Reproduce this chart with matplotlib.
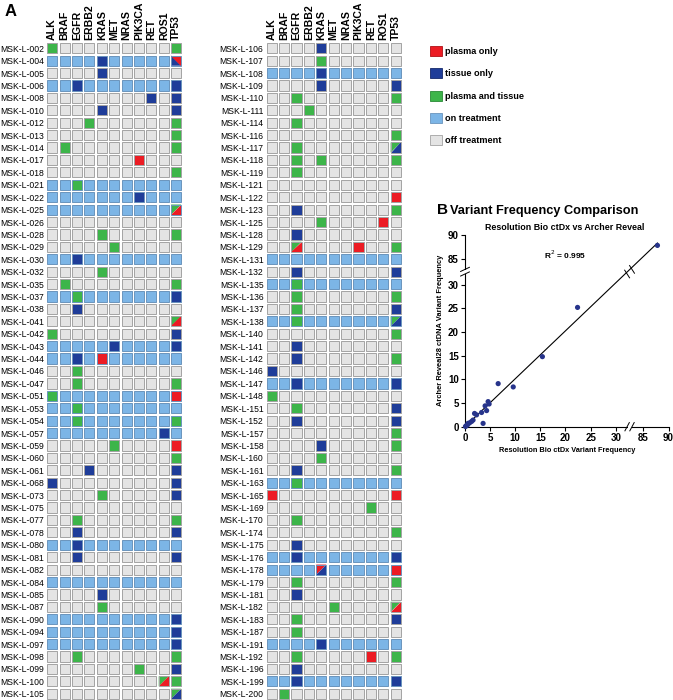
import numpy as np
import matplotlib
matplotlib.use("Agg")
import matplotlib.pyplot as plt
from matplotlib.patches import Rectangle, Polygon, Patch

# ------------------------------------------------------------
# Data
# ------------------------------------------------------------
GENES = ["ALK", "BRAF", "EGFR", "ERBB2", "KRAS", "MET", "NRAS", "PIK3CA", "RET", "ROS1", "TP53"]

left_samples = [
    "MSK-L-002", "MSK-L-004", "MSK-L-005", "MSK-L-006", "MSK-L-008", "MSK-L-010", "MSK-L-012",
    "MSK-L-013", "MSK-L-014", "MSK-L-017", "MSK-L-018", "MSK-L-021", "MSK-L-022", "MSK-L-025",
    "MSK-L-026", "MSK-L-028", "MSK-L-029", "MSK-L-030", "MSK-L-032", "MSK-L-035", "MSK-L-037",
    "MSK-L-038", "MSK-L-041", "MSK-L-042", "MSK-L-043", "MSK-L-044", "MSK-L-046", "MSK-L-047",
    "MSK-L-051", "MSK-L-053", "MSK-L-054", "MSK-L-057", "MSK-L-059", "MSK-L-060", "MSK-L-061",
    "MSK-L-068", "MSK-L-073", "MSK-L-075", "MSK-L-077", "MSK-L-078", "MSK-L-080", "MSK-L-081",
    "MSK-L-082", "MSK-L-084", "MSK-L-085", "MSK-L-087", "MSK-L-090", "MSK-L-094", "MSK-L-097",
    "MSK-L-098", "MSK-L-099", "MSK-L-100", "MSK-L-105",
]
right_samples = [
    "MSK-L-106", "MSK-L-107", "MSK-L-108", "MSK-L-109", "MSK-L-110", "MSK-L-111", "MSK-L-114",
    "MSK-L-116", "MSK-L-117", "MSK-L-118", "MSK-L-119", "MSK-L-121", "MSK-L-122", "MSK-L-123",
    "MSK-L-125", "MSK-L-128", "MSK-L-129", "MSK-L-131", "MSK-L-132", "MSK-L-135", "MSK-L-136",
    "MSK-L-137", "MSK-L-138", "MSK-L-140", "MSK-L-141", "MSK-L-142", "MSK-L-146", "MSK-L-147",
    "MSK-L-148", "MSK-L-151", "MSK-L-152", "MSK-L-157", "MSK-L-158", "MSK-L-160", "MSK-L-161",
    "MSK-L-163", "MSK-L-165", "MSK-L-169", "MSK-L-170", "MSK-L-174", "MSK-L-175", "MSK-L-176",
    "MSK-L-178", "MSK-L-179", "MSK-L-181", "MSK-L-182", "MSK-L-183", "MSK-L-187", "MSK-L-191",
    "MSK-L-192", "MSK-L-196", "MSK-L-199", "MSK-L-200",
]

on_treatment = [
    "MSK-L-004", "MSK-L-006", "MSK-L-021", "MSK-L-022", "MSK-L-025", "MSK-L-030", "MSK-L-037",
    "MSK-L-043", "MSK-L-044", "MSK-L-051", "MSK-L-053", "MSK-L-054", "MSK-L-057", "MSK-L-080",
    "MSK-L-084", "MSK-L-090", "MSK-L-094", "MSK-L-097",
    "MSK-L-108", "MSK-L-131", "MSK-L-135", "MSK-L-138", "MSK-L-147", "MSK-L-163", "MSK-L-176",
    "MSK-L-178", "MSK-L-191", "MSK-L-199",
]

# P = plasma only, T = tissue only, B = plasma and tissue
# "X/Y": X upper-left, Y lower-right ; "X\Y": X lower-left, Y upper-right
calls = {
    "MSK-L-002": {"ALK": "B", "TP53": "B"},
    "MSK-L-004": {"KRAS": "T", "TP53": "T\\P"},
    "MSK-L-005": {"KRAS": "T"},
    "MSK-L-006": {"EGFR": "T", "TP53": "T"},
    "MSK-L-008": {"RET": "T", "TP53": "T"},
    "MSK-L-010": {"KRAS": "T", "TP53": "T"},
    "MSK-L-012": {"ERBB2": "B", "TP53": "B"},
    "MSK-L-013": {"TP53": "B"},
    "MSK-L-014": {"BRAF": "B", "TP53": "B"},
    "MSK-L-017": {"PIK3CA": "P"},
    "MSK-L-018": {"TP53": "B"},
    "MSK-L-021": {"EGFR": "B"},
    "MSK-L-022": {"PIK3CA": "T"},
    "MSK-L-025": {"TP53": "B/P"},
    "MSK-L-028": {"KRAS": "B", "TP53": "B"},
    "MSK-L-029": {"MET": "B"},
    "MSK-L-030": {"EGFR": "T"},
    "MSK-L-032": {"KRAS": "B"},
    "MSK-L-035": {"BRAF": "B", "TP53": "B"},
    "MSK-L-037": {"EGFR": "B", "TP53": "T"},
    "MSK-L-038": {"EGFR": "T"},
    "MSK-L-041": {"TP53": "B/P"},
    "MSK-L-042": {"ALK": "B", "TP53": "T"},
    "MSK-L-043": {"MET": "T", "TP53": "T"},
    "MSK-L-044": {"EGFR": "T", "KRAS": "P"},
    "MSK-L-046": {"EGFR": "B"},
    "MSK-L-047": {"EGFR": "B", "TP53": "B"},
    "MSK-L-051": {"ALK": "B", "TP53": "P"},
    "MSK-L-053": {"EGFR": "B"},
    "MSK-L-054": {"EGFR": "B", "TP53": "B"},
    "MSK-L-057": {"ROS1": "T"},
    "MSK-L-059": {"MET": "B", "TP53": "P"},
    "MSK-L-060": {"TP53": "B"},
    "MSK-L-061": {"ERBB2": "T", "TP53": "T"},
    "MSK-L-068": {"ALK": "T", "TP53": "T"},
    "MSK-L-073": {"KRAS": "B", "TP53": "T"},
    "MSK-L-077": {"EGFR": "B", "TP53": "B"},
    "MSK-L-078": {"EGFR": "T", "TP53": "T"},
    "MSK-L-080": {"EGFR": "T"},
    "MSK-L-081": {"EGFR": "T", "TP53": "T"},
    "MSK-L-085": {"KRAS": "T"},
    "MSK-L-087": {"KRAS": "B"},
    "MSK-L-090": {"TP53": "T"},
    "MSK-L-094": {"TP53": "T"},
    "MSK-L-097": {"TP53": "T"},
    "MSK-L-098": {"EGFR": "B", "TP53": "B"},
    "MSK-L-099": {"PIK3CA": "B", "TP53": "T"},
    "MSK-L-100": {"ROS1": "B/P", "TP53": "B"},
    "MSK-L-105": {"TP53": "B/T"},
    "MSK-L-106": {"KRAS": "T"},
    "MSK-L-107": {"KRAS": "B"},
    "MSK-L-108": {"KRAS": "T"},
    "MSK-L-109": {"KRAS": "T", "TP53": "T"},
    "MSK-L-110": {"EGFR": "B", "TP53": "B"},
    "MSK-L-111": {"ERBB2": "B"},
    "MSK-L-114": {"EGFR": "B"},
    "MSK-L-116": {"TP53": "B"},
    "MSK-L-117": {"EGFR": "B", "TP53": "B/T"},
    "MSK-L-118": {"EGFR": "B", "KRAS": "B", "TP53": "B"},
    "MSK-L-119": {"EGFR": "B"},
    "MSK-L-122": {"TP53": "P"},
    "MSK-L-123": {"EGFR": "T", "TP53": "B"},
    "MSK-L-125": {"KRAS": "B", "ROS1": "P"},
    "MSK-L-128": {"EGFR": "T"},
    "MSK-L-129": {"EGFR": "B/P", "PIK3CA": "P", "TP53": "B"},
    "MSK-L-132": {"EGFR": "T", "TP53": "T"},
    "MSK-L-135": {"EGFR": "B"},
    "MSK-L-136": {"EGFR": "B", "TP53": "B"},
    "MSK-L-137": {"EGFR": "B", "TP53": "T"},
    "MSK-L-138": {"EGFR": "B", "TP53": "B/T"},
    "MSK-L-140": {"TP53": "B"},
    "MSK-L-141": {"EGFR": "T"},
    "MSK-L-142": {"EGFR": "T", "TP53": "B"},
    "MSK-L-146": {"ALK": "T"},
    "MSK-L-147": {"EGFR": "T", "TP53": "T"},
    "MSK-L-148": {"ALK": "B"},
    "MSK-L-151": {"EGFR": "B", "TP53": "T"},
    "MSK-L-152": {"EGFR": "T", "TP53": "T"},
    "MSK-L-157": {"TP53": "B"},
    "MSK-L-158": {"KRAS": "T", "TP53": "B"},
    "MSK-L-160": {"KRAS": "B"},
    "MSK-L-161": {"EGFR": "T", "TP53": "B"},
    "MSK-L-163": {"EGFR": "B"},
    "MSK-L-165": {"ALK": "P", "TP53": "P"},
    "MSK-L-169": {"RET": "B"},
    "MSK-L-170": {"EGFR": "B"},
    "MSK-L-174": {"TP53": "B"},
    "MSK-L-175": {"EGFR": "T"},
    "MSK-L-176": {"EGFR": "T", "TP53": "T"},
    "MSK-L-178": {"KRAS": "P/T", "TP53": "P"},
    "MSK-L-179": {"EGFR": "B", "TP53": "B"},
    "MSK-L-181": {"EGFR": "T"},
    "MSK-L-182": {"MET": "B", "TP53": "B/P"},
    "MSK-L-183": {"EGFR": "B", "TP53": "T"},
    "MSK-L-187": {"EGFR": "B"},
    "MSK-L-191": {"KRAS": "T"},
    "MSK-L-192": {"EGFR": "B", "RET": "P", "TP53": "B"},
    "MSK-L-196": {"EGFR": "T"},
    "MSK-L-199": {"EGFR": "T", "TP53": "T"},
    "MSK-L-200": {"BRAF": "B"},
}

# Variant frequency comparison (%)
resolution_vaf = [0.1, 0.25, 0.5, 0.6, 0.9, 1.3, 1.6, 1.9, 2.3, 3.3, 3.6, 4.0, 4.3, 4.6, 4.8, 6.6, 9.6, 15.4, 22.4, 87.8]
archer_vaf = [0.05, 0.2, 0.4, 0.7, 0.8, 1.1, 1.4, 2.8, 2.5, 3.0, 0.7, 4.4, 3.4, 5.3, 4.8, 9.1, 8.4, 14.8, 25.2, 87.8]
r_squared = 0.995
x_ticks = [0, 5, 10, 15, 20, 25, 30, 85, 90]
y_ticks = [0, 5, 10, 15, 20, 25, 30, 85, 90]

LEGEND_LABELS = ["plasma only", "tissue only", "plasma and tissue", "on treatment", "off treatment"]

# ------------------------------------------------------------
# Style
# ------------------------------------------------------------
COLORS = {"P": "#ec1c24", "T": "#1f3d99", "B": "#3db54a"}
ON_COLOR = "#7cb5e6"
OFF_COLOR = "#e4e4e4"
EDGE_OFF = "#a3a3a3"
EDGE_ON = "#6a94bd"
INSET = 0.09

plt.rcParams["font.family"] = ["Liberation Sans", "DejaVu Sans"]


def cell_corners(c, r):
    return c + INSET, c + 1 - INSET, r + INSET, r + 1 - INSET


def draw_heatmap(ax, samples):
    for r, sample in enumerate(samples):
        base = ON_COLOR if sample in on_treatment else OFF_COLOR
        edge = EDGE_ON if sample in on_treatment else EDGE_OFF
        row = calls.get(sample, {})
        for c, gene in enumerate(GENES):
            x0, x1, y0, y1 = cell_corners(c, r)
            code = row.get(gene)
            if code is None or len(code) == 1:
                face = base if code is None else COLORS[code]
                ax.add_patch(Rectangle((x0, y0), x1 - x0, y1 - y0, facecolor=face,
                                       edgecolor=edge, linewidth=0.7))
                continue
            a, sep, b = code[0], code[1], code[2]
            if sep == "/":
                tri_a = [(x0, y0), (x1, y0), (x0, y1)]
                tri_b = [(x1, y0), (x1, y1), (x0, y1)]
            else:
                tri_a = [(x0, y0), (x1, y1), (x0, y1)]
                tri_b = [(x0, y0), (x1, y0), (x1, y1)]
            ax.add_patch(Polygon(tri_a, closed=True, facecolor=COLORS[a], edgecolor="none"))
            ax.add_patch(Polygon(tri_b, closed=True, facecolor=COLORS[b], edgecolor="none"))
            ax.add_patch(Rectangle((x0, y0), x1 - x0, y1 - y0, facecolor="none",
                                   edgecolor=edge, linewidth=0.7))

    ax.set_xlim(0, len(GENES))
    ax.set_ylim(len(samples), 0)
    ax.xaxis.tick_top()
    ax.set_xticks(np.arange(len(GENES)) + 0.5, GENES, rotation=90,
                  fontsize=7.6, fontweight="bold")
    ax.set_yticks(np.arange(len(samples)) + 0.5, samples, fontsize=6.2)
    ax.tick_params(length=0, pad=1.5)
    for s in ax.spines.values():
        s.set_visible(False)


# ------------------------------------------------------------
# Figure
# ------------------------------------------------------------
fig = plt.figure(figsize=(6.73, 7.0), dpi=100)
W, H = 673.0, 700.0

ax_left = fig.add_axes([46 / W, 0.0, 136.4 / W, 658 / H])
draw_heatmap(ax_left, left_samples)
ax_right = fig.add_axes([265.5 / W, 0.0, 136.4 / W, 658 / H])
draw_heatmap(ax_right, right_samples)

fig.text(5 / W, 1 - 12 / H, "A", fontsize=12, fontweight="bold", va="center")

# legend
handles = [
    Patch(facecolor=COLORS["P"], edgecolor="#b01015", linewidth=0.6),
    Patch(facecolor=COLORS["T"], edgecolor="#15286b", linewidth=0.6),
    Patch(facecolor=COLORS["B"], edgecolor="#2a8a36", linewidth=0.6),
    Patch(facecolor=ON_COLOR, edgecolor=EDGE_ON, linewidth=0.6),
    Patch(facecolor=OFF_COLOR, edgecolor=EDGE_OFF, linewidth=0.6),
]
fig.legend(handles, LEGEND_LABELS, loc="upper left", bbox_to_anchor=(428 / W, 1 - 44 / H),
           frameon=False, handlelength=1.3, handleheight=1.3, handletextpad=0.35,
           labelspacing=1.34, borderpad=0.2, borderaxespad=0,
           prop={"size": 6.6, "weight": "bold"})

# ------------------------------------------------------------
# Panel B: broken-axis scatter
# ------------------------------------------------------------
knots_in = [-1000, 32, 83, 1000]
knots_out = [-1000, 32, 33.5, 950.5]


def fwd(v):
    return np.interp(v, knots_in, knots_out)


def inv(u):
    return np.interp(u, knots_out, knots_in)


ax_b = fig.add_axes([465 / W, 1 - 426.7 / H, 203.5 / W, 191.7 / H])
ax_b.set_xscale("function", functions=(fwd, inv))
ax_b.set_yscale("function", functions=(fwd, inv))
ax_b.set_xlim(0, 90)
ax_b.set_ylim(0, 90)

slope, intercept = np.polyfit(resolution_vaf, archer_vaf, 1)
xs = np.array([0, max(resolution_vaf)])
ax_b.plot(xs, slope * xs + intercept, color="black", linewidth=0.8, zorder=2)
ax_b.scatter(resolution_vaf, archer_vaf, s=14, color="#27348b", zorder=3, clip_on=False,
             edgecolor="none")

ax_b.set_xticks(x_ticks, [str(t) for t in x_ticks])
ax_b.set_yticks(y_ticks, [str(t) for t in y_ticks])
ax_b.minorticks_off()
ax_b.tick_params(labelsize=7, length=3, width=0.8, pad=1.5)
for lbl in ax_b.get_xticklabels() + ax_b.get_yticklabels():
    lbl.set_fontweight("bold")
ax_b.spines["top"].set_visible(False)
ax_b.spines["right"].set_visible(False)
for s in ("left", "bottom"):
    ax_b.spines[s].set_linewidth(0.8)

ax_b.set_xlabel("Resolution Bio ctDx Variant Frequency", fontsize=5.3, fontweight="bold", labelpad=3)
ax_b.set_ylabel("Archer Reveal28 ctDNA Variant Frequency", fontsize=5.4, fontweight="bold", labelpad=3)

fig.text(437 / W, 1 - 210 / H, "B", fontsize=11, fontweight="bold", va="center")
fig.text(450 / W, 1 - 211 / H, "Variant Frequency Comparison", fontsize=9.2,
         fontweight="bold", va="center")
fig.text(485 / W, 1 - 228 / H, "Resolution Bio ctDx vs Archer Reveal", fontsize=6.4,
         fontweight="bold", va="center")
fig.text(565 / W, 1 - 255 / H, f"R$^2$ = {r_squared:.3f}", fontsize=6, fontweight="bold",
         ha="center", va="center")

# break marks on axes and on the fit line
brk = 32.75 / fwd(90)
d = 0.018
ax_b.add_patch(Rectangle((brk - 0.010, -0.01), 0.020, 0.02, transform=ax_b.transAxes,
                         facecolor="white", edgecolor="none", clip_on=False, zorder=4))
ax_b.add_patch(Rectangle((-0.01, brk - 0.010), 0.02, 0.020, transform=ax_b.transAxes,
                         facecolor="white", edgecolor="none", clip_on=False, zorder=4))
for pos in (brk - 0.012, brk + 0.012):
    ax_b.plot([pos - d * 0.6, pos + d * 0.6], [-d * 1.2, d * 1.2], transform=ax_b.transAxes,
              color="black", linewidth=0.7, clip_on=False, zorder=5)
    ax_b.plot([-d * 1.2, d * 1.2], [pos - d * 0.6, pos + d * 0.6], transform=ax_b.transAxes,
              color="black", linewidth=0.7, clip_on=False, zorder=5)
for off in (-0.012, 0.012):
    cx, cy = brk + off, brk + off
    ax_b.plot([cx - 0.012, cx + 0.012], [cy + 0.02, cy - 0.02], transform=ax_b.transAxes,
              color="black", linewidth=0.7, zorder=5)

fig.savefig("out.png", dpi=100)
